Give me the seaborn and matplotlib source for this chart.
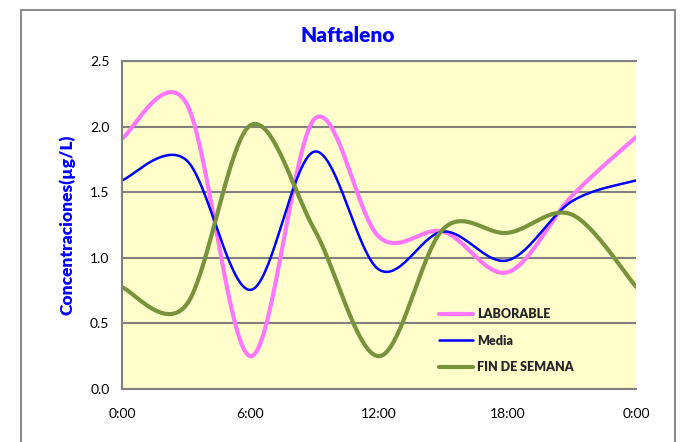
import numpy as np
import pandas as pd
import matplotlib
matplotlib.use('Agg')
import matplotlib.pyplot as plt
from matplotlib.patches import Rectangle
import seaborn as sns

# datos cada 3 horas (0:00 ... 0:00 del dia siguiente)
horas = [0, 3, 6, 9, 12, 15, 18, 21, 24]
laborable = [1.91, 2.18, 0.25, 2.06, 1.16, 1.20, 0.89, 1.47, 1.92]
media = [1.59, 1.745, 0.755, 1.81, 0.91, 1.20, 0.98, 1.43, 1.59]
fin_semana = [0.775, 0.64, 2.01, 1.21, 0.25, 1.22, 1.19, 1.33, 0.78]

x_ticks = [0, 6, 12, 18, 24]
x_labels = ['0:00', '6:00', '12:00', '18:00', '0:00']
y_ticks = [0.0, 0.5, 1.0, 1.5, 2.0, 2.5]


def suavizar(x, y, n=40):
    # curva suavizada tipo Excel (Catmull-Rom)
    x = np.asarray(x, float)
    y = np.asarray(y, float)
    px = np.concatenate([[x[0]], x, [x[-1]]])
    py = np.concatenate([[y[0]], y, [y[-1]]])
    xs, ys = [], []
    s = np.linspace(0, 1, n, endpoint=False)
    h00 = 2 * s**3 - 3 * s**2 + 1
    h10 = s**3 - 2 * s**2 + s
    h01 = -2 * s**3 + 3 * s**2
    h11 = s**3 - s**2
    for i in range(1, len(px) - 2):
        mx0 = (px[i + 1] - px[i - 1]) / 2
        mx1 = (px[i + 2] - px[i]) / 2
        my0 = (py[i + 1] - py[i - 1]) / 2
        my1 = (py[i + 2] - py[i]) / 2
        xs.append(h00 * px[i] + h10 * mx0 + h01 * px[i + 1] + h11 * mx1)
        ys.append(h00 * py[i] + h10 * my0 + h01 * py[i + 1] + h11 * my1)
    xs.append([x[-1]])
    ys.append([y[-1]])
    return np.concatenate(xs), np.concatenate(ys)


sns.set_style('white')
plt.rcParams['font.family'] = ['Lato', 'DejaVu Sans']

fig = plt.figure(figsize=(6.84, 4.42), dpi=100)
ax = fig.add_axes([122 / 684, 1 - 389 / 442, 514 / 684, 328 / 442])
ax.set_facecolor('#FFFFCC')

series = [('LABORABLE', laborable, '#FF77FF', 3.0),
          ('Media', media, '#0000FF', 1.8),
          ('FIN DE SEMANA', fin_semana, '#77933C', 3.0)]
for nombre, valores, color, lw in series:
    xs, ys = suavizar(horas, valores)
    df = pd.DataFrame({'hora': xs, 'conc': ys})
    sns.lineplot(data=df, x='hora', y='conc', ax=ax, color=color, linewidth=lw,
                 label=nombre, sort=False, estimator=None)

ax.set_xlim(0, 24)
ax.set_ylim(0, 2.5)
ax.set_xticks(x_ticks)
ax.set_xticklabels(x_labels)
ax.set_yticks(y_ticks)
ax.set_yticklabels(['%.1f' % v for v in y_ticks])
ax.tick_params(axis='both', labelsize=10, colors='#808080', labelcolor='black',
               length=4, width=1.5, direction='out')
ax.tick_params(axis='x', pad=10)
ax.tick_params(axis='y', pad=5)
ax.yaxis.grid(True, color='#808080', linewidth=1.5)
ax.xaxis.grid(False)
ax.set_axisbelow(True)
for lado in ['left', 'bottom', 'top']:
    ax.spines[lado].set_color('#808080')
    ax.spines[lado].set_linewidth(1.5)
ax.spines['right'].set_visible(False)

ax.set_xlabel('')
ax.set_ylabel('Concentraciones(µg/L)', color='#0000FF', fontsize=12.5, fontweight='heavy')
ax.yaxis.set_label_coords(-0.091, 0.5)

fig.text(348 / 684, 1 - 36 / 442, 'Naftaleno', ha='center', va='center',
         color='#0000FF', fontsize=15, fontweight='heavy')

ax.legend(loc='upper left', bbox_to_anchor=(0.617, 0.246), frameon=False,
          prop={'size': 9, 'weight': 'heavy'}, handlelength=2.7, handletextpad=0.3,
          labelspacing=1.15, borderpad=0, borderaxespad=0)

fig.patches.append(Rectangle((21 / 684, -0.05), 654 / 684, 1.05 - 10 / 442,
                             transform=fig.transFigure, fill=False,
                             edgecolor='#8C8C8C', linewidth=1.5))

fig.savefig('out.png', dpi=100)
